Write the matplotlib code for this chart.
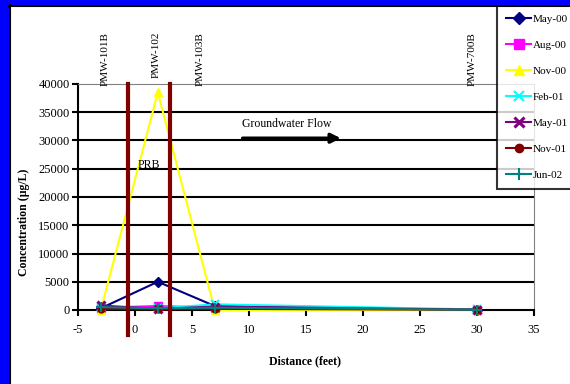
import matplotlib.pyplot as plt
from matplotlib.patches import Rectangle
from matplotlib.lines import Line2D

plt.rcParams['font.family'] = ['Liberation Serif', 'DejaVu Serif']
plt.rcParams['axes.unicode_minus'] = False

distance = [-3, 2, 7, 30]
well_names = ["PMW-101B", "PMW-102", "PMW-103B", "PMW-700B"]
well_label_x = [-2.6, 1.9, 5.7, 29.6]
prb_walls = [-0.6, 3.1]

dates = ["May-00", "Aug-00", "Nov-00", "Feb-01", "May-01", "Nov-01", "Jun-02"]
may00 = [300, 5000, 700, 50]
aug00 = [400, 700, 400, 50]
nov00 = [0, 38500, 0, 0]
feb01 = [500, 300, 1000, 100]
may01 = [800, 200, 600, 50]
nov01 = [200, 100, 200, 50]
jun02 = [500, 300, 400, 50]
series = [may00, aug00, nov00, feb01, may01, nov01, jun02]

colors = ['#000080', '#FF00FF', '#FFFF00', '#00FFFF', '#800080', '#800000', '#008080']
markers = ['D', 's', '^', 'x', 'x', 'o', '+']
msizes = [5, 6, 6, 6, 6, 5, 7]
mews = [1, 1, 1, 1.5, 2.2, 1, 1.5]

fig = plt.figure(figsize=(5.7, 3.84), dpi=100)
fig.patch.set_facecolor('white')
ax = fig.add_axes([78 / 570, 1 - 310 / 384, 456 / 570, 226 / 384])

# grid lines
for g in range(5000, 40000, 5000):
    ax.axhline(g, color='black', lw=1.5, zorder=1)

handles = []
for vals, lab, c, m, ms, mew in zip(series, dates, colors, markers, msizes, mews):
    ax.plot(distance, vals, color=c, lw=1.5, marker=m, markersize=ms,
            markeredgewidth=mew, markerfacecolor=c, markeredgecolor=c,
            zorder=3, clip_on=False)
    handles.append(Line2D([], [], color=c, lw=1.5, marker=m, markersize=ms + 1,
                          markeredgewidth=mew, markerfacecolor=c, markeredgecolor=c))

# PRB walls
for w in prb_walls:
    ax.plot([w, w], [-4400, 40000], color='#800000', lw=3, zorder=4, clip_on=False)

ax.set_xlim(-5, 35)
ax.set_ylim(0, 40000)
ax.set_xticks(range(-5, 40, 5))
ax.set_yticks(range(0, 45000, 5000))
ax.tick_params(labelsize=9, length=4, width=1.5, pad=2)
ax.tick_params(axis='x', pad=6)

for s in ['left', 'bottom']:
    ax.spines[s].set_color('black')
    ax.spines[s].set_linewidth(1.5)
for s in ['top', 'right']:
    ax.spines[s].set_color('gray')
    ax.spines[s].set_linewidth(0.8)

ax.set_xlabel('Distance (feet)', fontsize=8.5, fontweight='bold')
ax.xaxis.set_label_coords(0.498, -0.2)
ax.set_ylabel('Concentration (µg/L)', fontsize=8.5, fontweight='bold')
ax.yaxis.set_label_coords(-0.105, 0.39)

# well labels
for wx, name in zip(well_label_x, well_names):
    fig.text(ax.transData.transform((wx, 0))[0] / fig.dpi / 5.7, 1 - 32 / 384, name,
             rotation=90, ha='center', va='top', fontsize=8)

ax.text(1.2, 25700, 'PRB', fontsize=8.5, ha='center', va='center', zorder=5)
ax.text(9.4, 32900, 'Groundwater Flow', fontsize=8.5, ha='left', va='center')
ax.annotate('', xy=(18.3, 30400), xytext=(9.2, 30400),
            arrowprops=dict(arrowstyle='-|>', color='black', lw=2.5,
                            mutation_scale=14))

leg = fig.legend(handles=handles, labels=dates, loc='upper left',
                 bbox_to_anchor=(497 / 570, 1 - 5 / 384), fontsize=8,
                 frameon=True, fancybox=False, borderpad=0.85,
                 labelspacing=1.45, handlelength=2.2, handletextpad=0.2,
                 borderaxespad=0, numpoints=1)
leg.get_frame().set_edgecolor('black')
leg.get_frame().set_linewidth(1.5)

# blue frame on left and top
fig.add_artist(Rectangle((0, 0), 9 / 570, 1, transform=fig.transFigure,
                         color='#0000FF', zorder=10))
fig.add_artist(Rectangle((0, 1 - 5 / 384), 1, 5 / 384, transform=fig.transFigure,
                         color='#0000FF', zorder=10))
fig.add_artist(Line2D([10 / 570, 10 / 570], [0, 1 - 5 / 384], color='black', lw=1.5,
                      transform=fig.transFigure, zorder=10))
fig.add_artist(Line2D([9 / 570, 1], [1 - 6 / 384, 1 - 6 / 384], color='black', lw=1.5,
                      transform=fig.transFigure, zorder=10))

plt.savefig('out.png', dpi=100)
